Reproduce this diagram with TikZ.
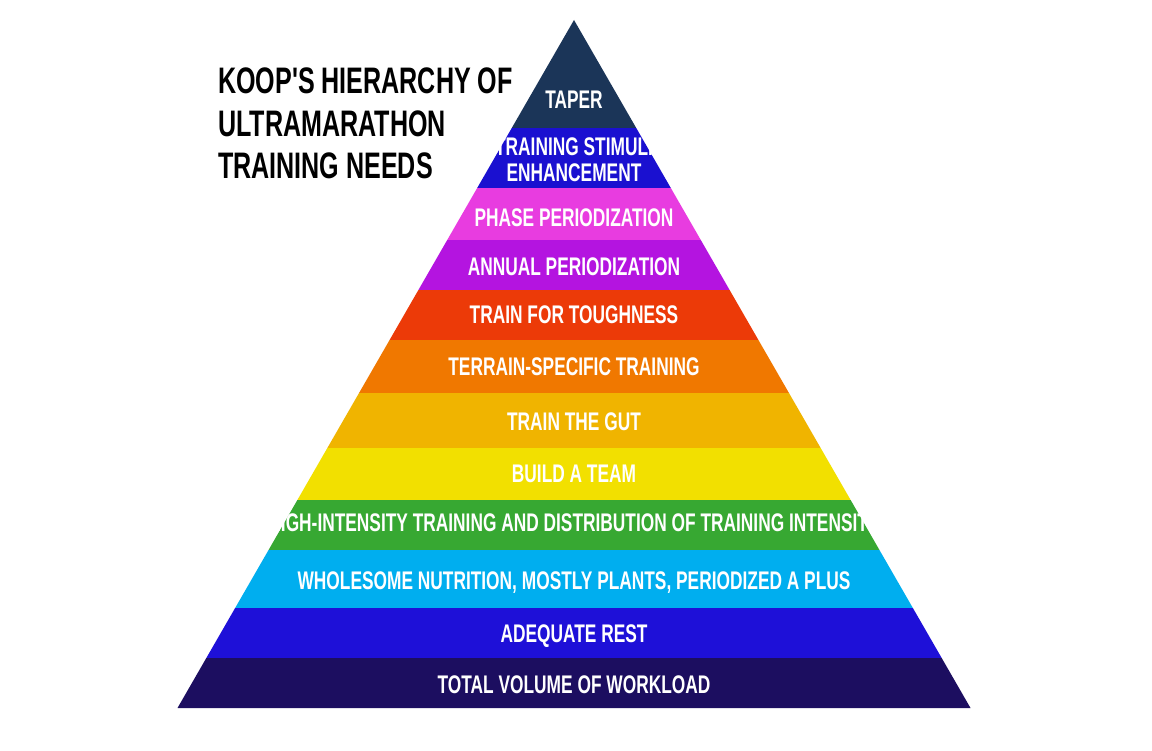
\documentclass[tikz,border=0pt]{standalone}
\usepackage{fontspec}
\newfontfamily\bandfont[FakeStretch=0.68]{Liberation Sans}
\usepackage{tikz}

\definecolor{cTaper}{HTML}{1B3558}
\definecolor{cStimuli}{HTML}{1A10D0}
\definecolor{cPhase}{HTML}{E83CE0}
\definecolor{cAnnual}{HTML}{B414E0}
\definecolor{cTough}{HTML}{EC3A08}
\definecolor{cTerrain}{HTML}{F07800}
\definecolor{cGut}{HTML}{F0B400}
\definecolor{cTeam}{HTML}{F2E000}
\definecolor{cIntensity}{HTML}{37A832}
\definecolor{cNutrition}{HTML}{00AEEF}
\definecolor{cRest}{HTML}{1E10D8}
\definecolor{cVolume}{HTML}{1C0E60}

\tikzset{
  bandlabel/.style={text=white, font=\bandfont\bfseries\fontsize{14.5}{15}\selectfont, align=center},
  titletext/.style={text=black, font=\bandfont\bfseries\fontsize{21}{24}\selectfont, align=left, anchor=north west}
}

\begin{document}
\begin{tikzpicture}[x=0.02cm, y=-0.02cm]
      \useasboundingbox (0, 0) rectangle (1152, 750);
      \fill[white] (0, 0) rectangle (1152, 750);
      % Title
      \node[titletext] (title) at (212, 62) {KOOP'S HIERARCHY OF\\ULTRAMARATHON\\TRAINING NEEDS};
      % Pyramid bands: top, bottom, colour
      \foreach \ya/\yb/\col in {20/128/cTaper, 128/188/cStimuli, 188/240/cPhase,
          240/290/cAnnual, 290/340/cTough, 340/393/cTerrain, 393/448/cGut,
          448/500/cTeam, 500/550/cIntensity, 550/608/cNutrition,
          608/658/cRest, 658/708/cVolume} {
        \pgfmathsetmacro{\wa}{(\ya-20)/688*396.5}
        \pgfmathsetmacro{\wb}{(\yb-20)/688*396.5}
        \fill[\col] (574-\wa, \ya) -- (574+\wa, \ya) -- (574+\wb, \yb) -- (574-\wb, \yb) -- cycle;
      }
      % Labels
      \node[bandlabel] (taper) at (574, 100) {TAPER};
      \node[bandlabel] (stimuli) at (574, 160) {TRAINING STIMULI\\ENHANCEMENT};
      \node[bandlabel] (phase) at (574, 218) {PHASE PERIODIZATION};
      \node[bandlabel] (annual) at (574, 267) {ANNUAL PERIODIZATION};
      \node[bandlabel] (tough) at (574, 315) {TRAIN FOR TOUGHNESS};
      \node[bandlabel] (terrain) at (574, 367) {TERRAIN-SPECIFIC TRAINING};
      \node[bandlabel] (gut) at (574, 422) {TRAIN THE GUT};
      \node[bandlabel] (team) at (574, 474) {BUILD A TEAM};
      \node[bandlabel] (intensity) at (574, 523) {HIGH-INTENSITY TRAINING AND DISTRIBUTION OF TRAINING INTENSITY};
      \node[bandlabel] (nutrition) at (574, 583) {WHOLESOME NUTRITION, MOSTLY PLANTS, PERIODIZED A PLUS};
      \node[bandlabel] (rest) at (574, 636) {ADEQUATE REST};
      \node[bandlabel] (volume) at (574, 685) {TOTAL VOLUME OF WORKLOAD};
    \end{tikzpicture}
\end{document}
